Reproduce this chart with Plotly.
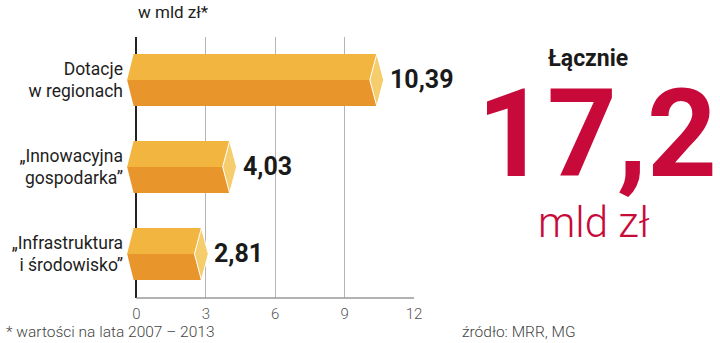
import plotly.graph_objects as go

categories = ["Dotacje<br>w regionach", "„Innowacyjna<br>gospodarka”", "„Infrastruktura<br>i środowisko”"]
values = [10.39, 4.03, 2.81]
value_labels = ["10,39", "4,03", "2,81"]
tick_vals = [0, 3, 6, 9, 12]
total_label = "17,2"

W, H = 720, 343
ML, MR, MT, MB = 126, 306, 37, 45
PW, PH = W - ML - MR, H - MT - MB

def px(x):
    return (x - ML) / PW

def py(y):
    return 1 - (y - MT) / PH

C_TOP = "#F2B540"
C_BOT = "#E8952B"
C_TIP = "#F6CD6C"
HALF = 0.3
DX = 0.3
LEFT_PT = -0.4
LEFT_CORNER = -0.12

fig = go.Figure()
for i, v in enumerate(values):
    y0 = i
    fig.add_trace(go.Scatter(
        x=[LEFT_PT, LEFT_CORNER, v, v - DX, LEFT_PT],
        y=[y0, y0 - HALF, y0 - HALF, y0, y0],
        fill="toself", fillcolor=C_TOP, mode="lines",
        line=dict(color="rgba(0,0,0,0)", width=0), hoverinfo="skip", showlegend=False))
    fig.add_trace(go.Scatter(
        x=[LEFT_PT, LEFT_CORNER, v, v - DX, LEFT_PT],
        y=[y0, y0 + HALF, y0 + HALF, y0, y0],
        fill="toself", fillcolor=C_BOT, mode="lines",
        line=dict(color="rgba(0,0,0,0)", width=0), hoverinfo="skip", showlegend=False))
    fig.add_trace(go.Scatter(
        x=[v, v + DX, v, v - DX, v],
        y=[y0 - HALF, y0, y0 + HALF, y0, y0 - HALF],
        fill="toself", fillcolor=C_TIP, mode="lines",
        line=dict(color="white", width=1), hoverinfo="skip", showlegend=False))

annotations = []
for i, (v, lab) in enumerate(zip(values, value_labels)):
    annotations.append(dict(
        x=v + DX, y=i, xref="x", yref="y", text=lab, showarrow=False,
        xanchor="left", yanchor="middle", xshift=4,
        font=dict(family="Roboto", size=25, color="#1a1a1a", weight="bold")))

annotations += [
    dict(x=px(136), y=py(12), xref="paper", yref="paper", text="w mld zł*",
         showarrow=False, xanchor="left", yanchor="middle",
         font=dict(family="Roboto", size=17, color="#222")),
    dict(x=px(588), y=py(58), xref="paper", yref="paper", text="Łącznie",
         showarrow=False, xanchor="center", yanchor="middle",
         font=dict(family="Roboto", size=23, color="#1a1a1a", weight="bold")),
    dict(x=px(597), y=py(134), xref="paper", yref="paper", text=total_label,
         showarrow=False, xanchor="center", yanchor="middle",
         font=dict(family="Roboto", size=122, color="#C70A3A", weight="bold")),
    dict(x=px(594), y=py(222), xref="paper", yref="paper", text="mld zł",
         showarrow=False, xanchor="center", yanchor="middle",
         font=dict(family="Roboto", size=42, color="#C70A3A", weight=300)),
    dict(x=px(4), y=py(332), xref="paper", yref="paper", text="* wartości na lata 2007 – 2013",
         showarrow=False, xanchor="left", yanchor="middle",
         font=dict(family="Roboto", size=15.5, color="#444", weight=300)),
    dict(x=px(460), y=py(332), xref="paper", yref="paper", text="źródło: MRR, MG",
         showarrow=False, xanchor="left", yanchor="middle",
         font=dict(family="Roboto", size=15.5, color="#444", weight=300)),
]

fig.update_layout(
    width=W, height=H, margin=dict(l=ML, r=MR, t=MT, b=MB, autoexpand=False),
    paper_bgcolor="white", plot_bgcolor="white",
    annotations=annotations,
    shapes=[dict(type="line", xref="x", yref="paper", x0=0, x1=12, y0=0, y1=0,
                 line=dict(color="#999", width=1.5))],
    xaxis=dict(range=[-0.45, 12], tickvals=tick_vals, ticktext=[str(t) for t in tick_vals],
               showgrid=True, gridcolor="#b5b5b5", gridwidth=1,
               zeroline=True, zerolinecolor="#222", zerolinewidth=2,
               showline=False, ticks="", ticklabelstandoff=5, automargin=False,
               tickfont=dict(family="Roboto", size=15, color="#555", weight=300),
               fixedrange=True),
    yaxis=dict(range=[2.506, -0.494], tickvals=list(range(len(categories))), ticktext=categories,
               showgrid=False, zeroline=False, showline=False, ticks="",
               ticklabelstandoff=2, automargin=False,
               tickfont=dict(family="Roboto", size=17.5, color="#1e1e1e"),
               fixedrange=True),
)

fig.write_html("out.html")
